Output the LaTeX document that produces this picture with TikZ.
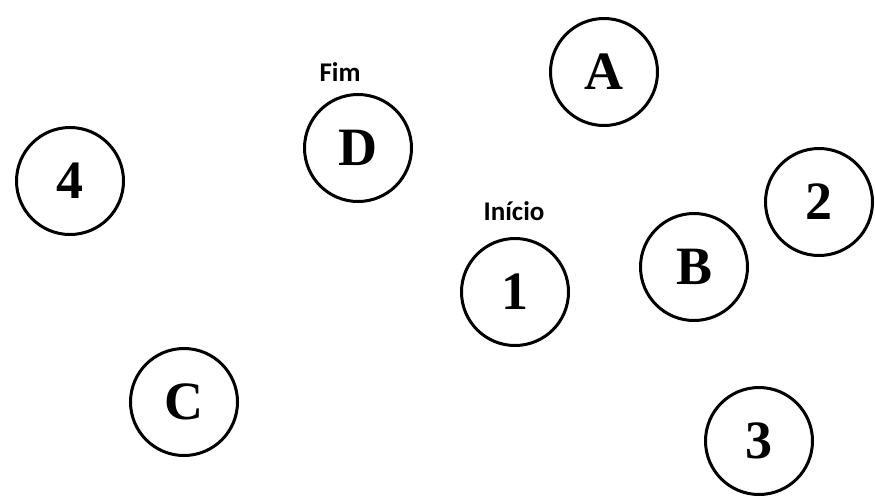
\documentclass[tikz,border=0pt]{standalone}
\usepackage{fontspec}
\setmainfont{Liberation Serif}
\newfontfamily\labelfont{Carlito}
\begin{document}
\begin{tikzpicture}[x=1pt,y=-1pt,
  vertex/.style={circle,draw=black,line width=3pt,minimum size=107pt,inner sep=0pt,
    font=\fontsize{54}{54}\selectfont\bfseries},
  tag/.style={font=\labelfont\fontsize{27}{27}\selectfont\bfseries}]
\useasboundingbox[fill=white] (0,0) rectangle (875,499);
\node[vertex] (A) at (604,72) {A};
\node[vertex] (D) at (358,148) {D};
\node[vertex] (n4) at (70,181) {4};
\node[vertex] (n2) at (819,202) {2};
\node[vertex] (B) at (694,267) {B};
\node[vertex] (n1) at (515,292) {1};
\node[vertex] (C) at (184,402) {C};
\node[vertex] (n3) at (759,441) {3};
\node[tag] (fim) at (340,72) {Fim};
\node[tag] (inicio) at (514,211) {Início};
\end{tikzpicture}
\end{document}
